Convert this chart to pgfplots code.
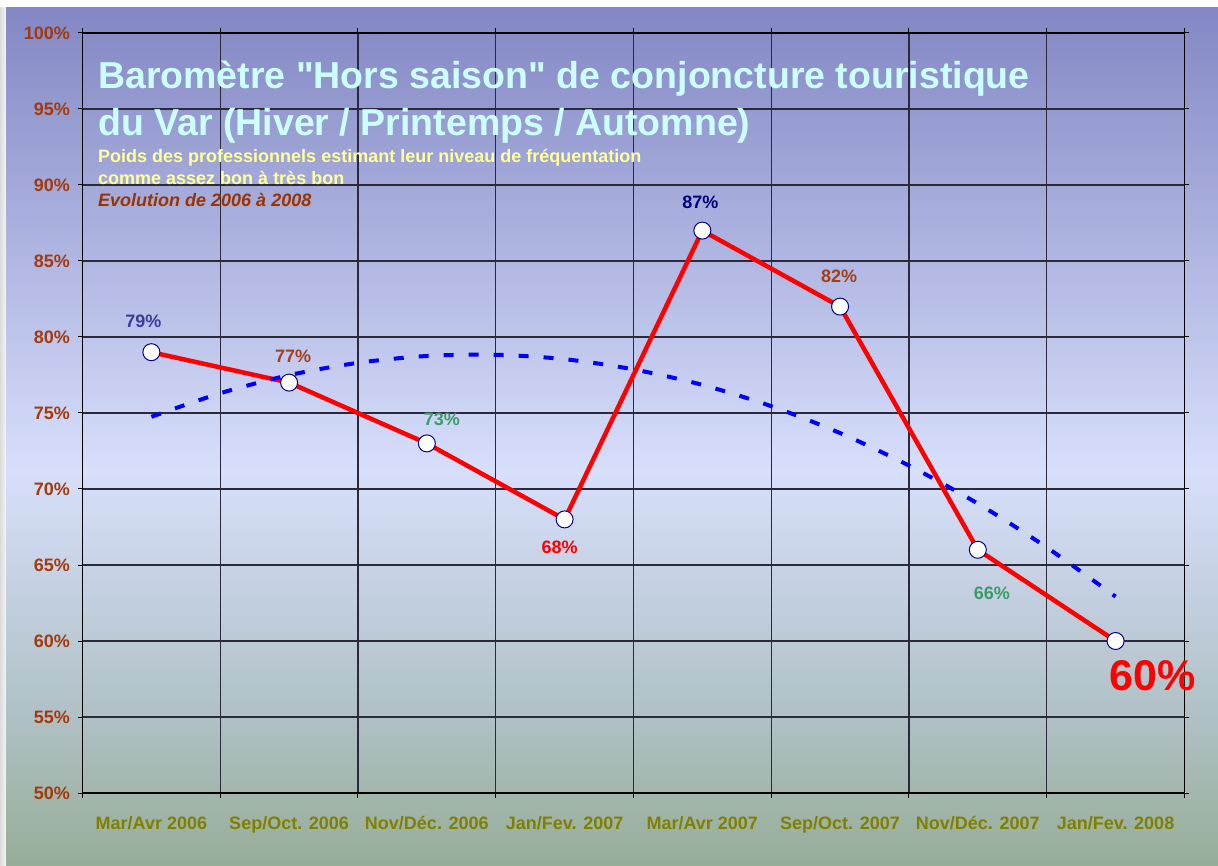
\documentclass[border=0pt]{standalone}
\usepackage{fontspec}
\setmainfont{Liberation Sans}[Ligatures=TeXOff]
\usepackage{pgfplots}
\pgfplotsset{compat=1.18}
\definecolor{ttl}{HTML}{CCFFFF}
\definecolor{sub}{HTML}{FFFF99}
\definecolor{evo}{HTML}{993300}
\definecolor{ytl}{HTML}{A33A0F}
\definecolor{xtl}{HTML}{808000}
\definecolor{gridc}{HTML}{2A2A3A}
\definecolor{l79}{HTML}{3C3C9C}
\definecolor{l77}{HTML}{A0401A}
\definecolor{l73}{HTML}{3A9A6A}
\definecolor{l87}{HTML}{000080}
\definecolor{bgtop}{HTML}{8387C4}
\definecolor{bgmid}{HTML}{D7DFFB}
\definecolor{bglow}{HTML}{AFC0C4}
\definecolor{bgbot}{HTML}{97AD97}
\begin{document}
\begin{tikzpicture}[x=1pt,y=1pt]
\fill[white] (0,0) rectangle (1218,865);
\shade[left color=black!14, right color=black!4] (0,0) rectangle (6,857);
\shade[bottom color=bgbot, top color=bglow] (6,0) rectangle (1218,146);
\shade[bottom color=bglow, top color=bgmid] (6,145.5) rectangle (1218,394);
\shade[bottom color=bgmid, top color=bgtop] (6,393.5) rectangle (1218,857);
\begin{axis}[
  at={(82.5pt,72pt)}, anchor=south west,
  scale only axis, width=1102pt, height=760pt,
  xmin=0.5, xmax=8.5, ymin=50, ymax=100,
  clip=false,
  xtick={1,...,8},
  xticklabels={Mar/Avr 2006, Sep/Oct. 2006, Nov/Déc. 2006, Jan/Fev. 2007, Mar/Avr 2007, Sep/Oct. 2007, Nov/Déc. 2007, Jan/Fev. 2008},
  minor xtick={0.5,1.5,...,8.5},
  xminorgrids, ymajorgrids,
  ytick={50,55,...,100},
  yticklabels={50\%,55\%,60\%,65\%,70\%,75\%,80\%,85\%,90\%,95\%,100\%},
  tick align=outside,
  major tick length=5pt, minor tick length=5pt,
  major x tick style={draw=none},
  tick style={black, line width=1pt},
  grid style={gridc, line width=1.2pt},
  minor grid style={gridc, line width=1.2pt},
  axis line style={black, line width=1.5pt},
  ticklabel style={font=\bfseries\fontsize{18}{20}\selectfont},
  xticklabel style={text=xtl, yshift=-15pt},
  yticklabel style={text=ytl, xshift=-4pt},
]
\addplot[red, line width=4.5pt, line join=round, mark=*, mark size=8.5pt,
  mark options={fill=white, draw=l87, line width=1pt}]
  coordinates {(1,79)(2,77)(3,73)(4,68)(5,87)(6,82)(7,66)(8,60)};
\addplot[blue, line width=4pt, smooth, dash pattern=on 10pt off 15pt]
  coordinates {(1,74.75)(1.5,76.30)(2,77.49)(2.5,78.30)(3,78.75)(3.5,78.83)(4,78.54)(4.5,77.87)(5,76.85)(5.5,75.45)(6,73.68)(6.5,71.54)(7,69.04)(7.5,66.16)(8,62.92)};
\tikzset{dl/.style={font=\bfseries\fontsize{18}{20}\selectfont, inner sep=0pt}}
\node[dl, text=l79, xshift=-8pt, yshift=31pt] at (axis cs:1,79) {79\%};
\node[dl, text=l77, xshift=4pt, yshift=26pt] at (axis cs:2,77) {77\%};
\node[dl, text=l73, xshift=15pt, yshift=24pt] at (axis cs:3,73) {73\%};
\node[dl, text=red, xshift=-5pt, yshift=-28pt] at (axis cs:4,68) {68\%};
\node[dl, text=l87, xshift=-2pt, yshift=28pt] at (axis cs:5,87) {87\%};
\node[dl, text=l77, xshift=-1pt, yshift=30pt] at (axis cs:6,82) {82\%};
\node[dl, text=l73, xshift=14pt, yshift=-44pt] at (axis cs:7,66) {66\%};
\node[dl, text=red, font=\bfseries\fontsize{43}{46}\selectfont, xshift=37pt, yshift=-35pt] at (axis cs:8,60) {60\%};
\end{axis}
\node[anchor=base west, inner sep=0pt, text=ttl, font=\bfseries\fontsize{37.5}{40}\selectfont] at (98,776) {Baromètre "Hors saison" de conjoncture touristique};
\node[anchor=base west, inner sep=0pt, text=ttl, font=\bfseries\fontsize{37.5}{40}\selectfont] at (98,729) {du Var (Hiver / Printemps / Automne)};
\node[anchor=base west, inner sep=0pt, text=sub, font=\bfseries\fontsize{18}{20}\selectfont] at (98,702) {Poids des professionnels estimant leur niveau de fréquentation};
\node[anchor=base west, inner sep=0pt, text=sub, font=\bfseries\fontsize{18}{20}\selectfont] at (98,680) {comme assez bon à très bon};
\node[anchor=base west, inner sep=0pt, text=evo, font=\bfseries\itshape\fontsize{18}{20}\selectfont] at (98,658) {Evolution de 2006 à 2008};
\end{tikzpicture}
\end{document}
